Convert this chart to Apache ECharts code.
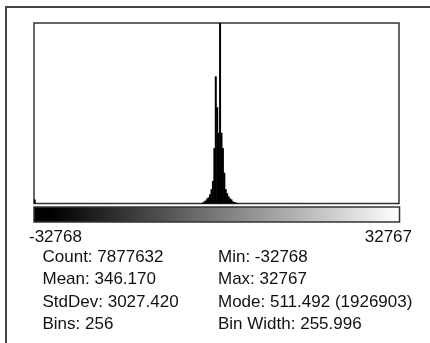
<!DOCTYPE html>
<html>
<head>
<meta charset="utf-8">
<script src="https://cdn.jsdelivr.net/npm/echarts@6/dist/echarts.min.js"></script>
<style>
html,body{margin:0;padding:0;background:#fff;}
#chart{width:430px;height:343px;}
</style>
</head>
<body>
<div id="chart"></div>
<script>
// Histogram settings (ImageJ style)
var binTotal = 256;
var histMin = -32768;
var histMax = 32767;
var binWidth = 255.996;

// Non-empty bins: [bin index, count]
var binIndices = [0, 117, 118, 119, 120, 121, 122, 123, 124, 125, 126, 127, 128, 129,
                  130, 131, 132, 133, 134, 135, 136, 137, 138, 139, 140, 141, 142, 255];
var binCounts  = [40000, 5000, 10000, 20000, 30000, 50000, 60000, 90000, 140000, 220000, 540000, 1240000, 940000, 690000,
                  1926903, 690000, 540000, 300000, 140000, 100000, 70000, 50000, 40000, 20000, 15000, 10000, 5000, 5000];

// Display scale (ImageJ clips the mode bin)
var yScaleMax = 1760000;

// Axis end labels
var axisLabels = ['-32768', '32767'];

// Statistics text
var statsLeft = ['Count: 7877632', 'Mean: 346.170', 'StdDev: 3027.420', 'Bins: 256'];
var statsRight = ['Min: -32768', 'Max: 32767', 'Mode: 511.492 (1926903)', 'Bin Width: 255.996'];

// Build category list and full bin array
var categories = [];
var values = [];
for (var i = 0; i < binTotal; i++) {
  categories.push((histMin + i * binWidth).toFixed(1));
  values.push(0);
}
for (var k = 0; k < binIndices.length; k++) {
  values[binIndices[k]] = binCounts[k];
}

var font = '"Liberation Sans", Arial, sans-serif';
var textColor = '#111';
var graphics = [
  { type: 'polyline', shape: { points: [[6, 343], [6, 7], [430, 7]] },
    style: { stroke: '#444', lineWidth: 2, fill: null }, silent: true },
  { type: 'rect', shape: { x: 34, y: 207, width: 365.5, height: 15 },
    style: { stroke: '#333', lineWidth: 1.5,
      fill: { type: 'linear', x: 0, y: 0, x2: 1, y2: 0,
        colorStops: [{ offset: 0, color: '#000' }, { offset: 0.05, color: '#000' }, { offset: 1, color: '#fff' }] } } },
  { type: 'text', left: 29, top: 229, style: { text: axisLabels[0], font: '17px ' + font, fill: textColor } },
  { type: 'text', right: 18, top: 229, style: { text: axisLabels[1], font: '17px ' + font, fill: textColor } }
];
var rowTops = [249, 271, 293.5, 315.5];
for (var r = 0; r < statsLeft.length; r++) {
  graphics.push({ type: 'text', left: 42.5, top: rowTops[r],
    style: { text: statsLeft[r], font: '17px ' + font, fill: textColor } });
  graphics.push({ type: 'text', left: 218, top: rowTops[r],
    style: { text: statsRight[r], font: '17px ' + font, fill: textColor } });
}

var chart = echarts.init(document.getElementById('chart'), null, { renderer: 'canvas' });
chart.setOption({
  animation: false,
  backgroundColor: '#fff',
  grid: { left: 34, top: 23, right: 31, bottom: 139.5, show: true,
          borderColor: '#333', borderWidth: 1.5, backgroundColor: '#fff' },
  xAxis: { type: 'category', data: categories, boundaryGap: true,
           axisLine: { show: false }, axisTick: { show: false }, axisLabel: { show: false },
           splitLine: { show: false } },
  yAxis: { type: 'value', min: 0, max: yScaleMax,
           axisLine: { show: false }, axisTick: { show: false }, axisLabel: { show: false },
           splitLine: { show: false } },
  series: [{
    type: 'bar', data: values, barWidth: 2, barGap: '-100%',
    clip: true, silent: true,
    itemStyle: { color: '#000' }
  }],
  graphic: graphics
});
</script>
</body>
</html>
